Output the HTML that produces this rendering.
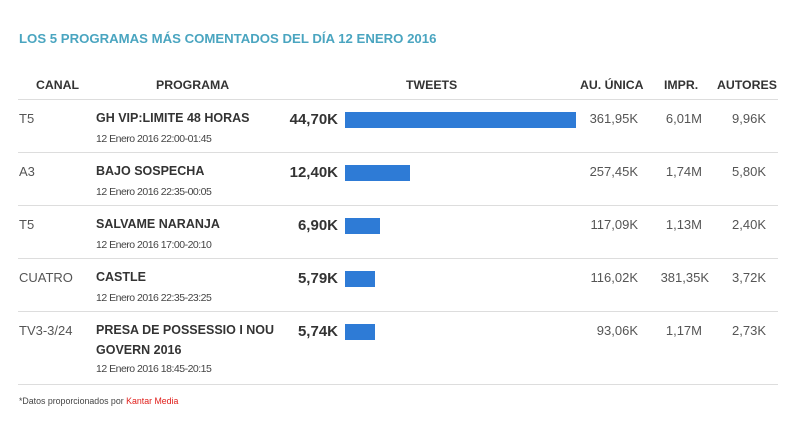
<!DOCTYPE html>
<html><head><meta charset="utf-8"><style>
body{margin:0;width:800px;height:425px;background:#fff;font-family:"Liberation Sans",Arial,sans-serif;position:relative;overflow:hidden}
div{position:absolute;white-space:nowrap}
.t{left:19px;top:31px;font-size:13.2px;font-weight:bold;color:#4aa5c0}
.h{top:78px;font-size:12.3px;font-weight:bold;color:#333}
.l{left:18px;width:760px;height:1px;background:#ddd}
.c{left:19px;font-size:13px;color:#555}
.p{left:96px;font-size:12.5px;font-weight:bold;color:#333;line-height:20px}
.s{left:96px;font-size:10.5px;color:#444;letter-spacing:-0.5px}
.v{width:100px;left:238px;text-align:right;font-size:15px;font-weight:bold;color:#333}
.b{left:345px;height:16px;background:#2e7bd6}
.n{font-size:13px;color:#555;text-align:right;width:80px}
.f{left:19px;top:396px;font-size:8.8px;color:#444}
</style></head><body>
<div class="t">LOS 5 PROGRAMAS MÁS COMENTADOS DEL DÍA 12 ENERO 2016</div>
<div class="h" style="left:36px">CANAL</div>
<div class="h" style="left:156px">PROGRAMA</div>
<div class="h" style="left:406px">TWEETS</div>
<div class="h" style="left:580px">AU. ÚNICA</div>
<div class="h" style="left:664px">IMPR.</div>
<div class="h" style="left:717px">AUTORES</div>
<div class="l" style="top:99px"></div>
<div class="l" style="top:152px"></div>
<div class="l" style="top:205px"></div>
<div class="l" style="top:258px"></div>
<div class="l" style="top:311px"></div>
<div class="l" style="top:384px"></div>

<div class="c" style="top:111px">T5</div>
<div class="p" style="top:108px">GH VIP:LIMITE 48 HORAS</div>
<div class="s" style="top:133px">12 Enero 2016 22:00-01:45</div>
<div class="v" style="top:111px">44,70K</div>
<div class="b" style="top:112px;width:231px"></div>
<div class="n" style="top:111px;left:558px">361,95K</div>
<div class="n" style="top:111px;left:622px">6,01M</div>
<div class="n" style="top:111px;left:686px">9,96K</div>

<div class="c" style="top:164px">A3</div>
<div class="p" style="top:161px">BAJO SOSPECHA</div>
<div class="s" style="top:186px">12 Enero 2016 22:35-00:05</div>
<div class="v" style="top:164px">12,40K</div>
<div class="b" style="top:165px;width:65px"></div>
<div class="n" style="top:164px;left:558px">257,45K</div>
<div class="n" style="top:164px;left:622px">1,74M</div>
<div class="n" style="top:164px;left:686px">5,80K</div>

<div class="c" style="top:217px">T5</div>
<div class="p" style="top:214px">SALVAME NARANJA</div>
<div class="s" style="top:239px">12 Enero 2016 17:00-20:10</div>
<div class="v" style="top:217px">6,90K</div>
<div class="b" style="top:218px;width:35px"></div>
<div class="n" style="top:217px;left:558px">117,09K</div>
<div class="n" style="top:217px;left:622px">1,13M</div>
<div class="n" style="top:217px;left:686px">2,40K</div>

<div class="c" style="top:270px">CUATRO</div>
<div class="p" style="top:267px">CASTLE</div>
<div class="s" style="top:292px">12 Enero 2016 22:35-23:25</div>
<div class="v" style="top:270px">5,79K</div>
<div class="b" style="top:271px;width:30px"></div>
<div class="n" style="top:270px;left:558px">116,02K</div>
<div class="n" style="top:270px;left:629px">381,35K</div>
<div class="n" style="top:270px;left:686px">3,72K</div>

<div class="c" style="top:323px">TV3-3/24</div>
<div class="p" style="top:320px">PRESA DE POSSESSIO I NOU<br>GOVERN 2016</div>
<div class="s" style="top:363px">12 Enero 2016 18:45-20:15</div>
<div class="v" style="top:323px">5,74K</div>
<div class="b" style="top:324px;width:30px"></div>
<div class="n" style="top:323px;left:558px">93,06K</div>
<div class="n" style="top:323px;left:622px">1,17M</div>
<div class="n" style="top:323px;left:686px">2,73K</div>

<div class="f">*Datos proporcionados por <span style="color:#e0201c">Kantar Media</span></div>
</body></html>
